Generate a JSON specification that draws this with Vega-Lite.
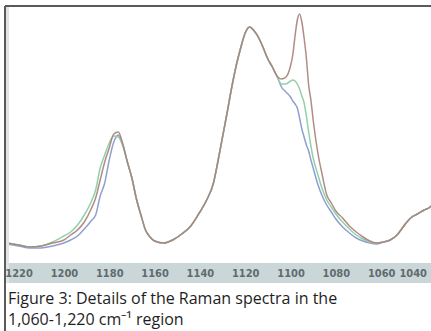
{
  "$schema": "https://vega.github.io/schema/vega-lite/v6.json",
  "width": 426,
  "height": 257,
  "autosize": {"type": "none"},
  "padding": {"left": 5, "top": 6, "right": 0, "bottom": 68},
  "background": "white",
  "config": {"view": {"stroke": null}},
  "title": {
    "text": ["Figure 3: Details of the Raman spectra in the", "1,060-1,220 cm⁻¹ region"],
    "orient": "bottom",
    "anchor": "start",
    "frame": "group",
    "font": "Open Sans",
    "fontSize": 16,
    "fontWeight": "normal",
    "color": "#1e1e1e",
    "lineHeight": 21,
    "offset": -41,
    "dx": 3
  },
  "datasets": {
    "spectra": [
      {"wn": 1225, "red": 20, "green": 20, "blue": 19},
      {"wn": 1220, "red": 18, "green": 18, "blue": 17},
      {"wn": 1215, "red": 16, "green": 16, "blue": 15},
      {"wn": 1210, "red": 17, "green": 17, "blue": 15},
      {"wn": 1205, "red": 20, "green": 21, "blue": 17},
      {"wn": 1200, "red": 23, "green": 27, "blue": 20},
      {"wn": 1197, "red": 28, "green": 31, "blue": 23},
      {"wn": 1194, "red": 33, "green": 38, "blue": 27},
      {"wn": 1191, "red": 41, "green": 48, "blue": 34},
      {"wn": 1188, "red": 54, "green": 61, "blue": 42},
      {"wn": 1186, "red": 65, "green": 73, "blue": 48},
      {"wn": 1184, "red": 83, "green": 95, "blue": 67},
      {"wn": 1182, "red": 101, "green": 108, "blue": 80},
      {"wn": 1180, "red": 115, "green": 120, "blue": 103},
      {"wn": 1178, "red": 129, "green": 127, "blue": 121},
      {"wn": 1176, "red": 131, "green": 126, "blue": 128},
      {"wn": 1174, "red": 119, "green": 117, "blue": 118},
      {"wn": 1172, "red": 101, "green": 101, "blue": 101},
      {"wn": 1170, "red": 85, "green": 85, "blue": 85},
      {"wn": 1168, "red": 64, "green": 64, "blue": 64},
      {"wn": 1166, "red": 48, "green": 48, "blue": 48},
      {"wn": 1164, "red": 33, "green": 33, "blue": 33},
      {"wn": 1162, "red": 26, "green": 26, "blue": 26},
      {"wn": 1160, "red": 22, "green": 22, "blue": 22},
      {"wn": 1156, "red": 20, "green": 20, "blue": 20},
      {"wn": 1152, "red": 23, "green": 23, "blue": 23},
      {"wn": 1148, "red": 29, "green": 29, "blue": 29},
      {"wn": 1144, "red": 37, "green": 37, "blue": 37},
      {"wn": 1140, "red": 51, "green": 51, "blue": 51},
      {"wn": 1137, "red": 63, "green": 63, "blue": 63},
      {"wn": 1134, "red": 80, "green": 80, "blue": 80},
      {"wn": 1132, "red": 102, "green": 102, "blue": 102},
      {"wn": 1130, "red": 126, "green": 126, "blue": 126},
      {"wn": 1128, "red": 150, "green": 150, "blue": 150},
      {"wn": 1126, "red": 175, "green": 175, "blue": 175},
      {"wn": 1124, "red": 197, "green": 197, "blue": 197},
      {"wn": 1122, "red": 215, "green": 215, "blue": 215},
      {"wn": 1120, "red": 230, "green": 230, "blue": 230},
      {"wn": 1118, "red": 236, "green": 236, "blue": 236},
      {"wn": 1116, "red": 232, "green": 232, "blue": 232},
      {"wn": 1114, "red": 225, "green": 225, "blue": 225},
      {"wn": 1112, "red": 215, "green": 215, "blue": 215},
      {"wn": 1110, "red": 204, "green": 204, "blue": 204},
      {"wn": 1108, "red": 196, "green": 196, "blue": 196},
      {"wn": 1106, "red": 187, "green": 187, "blue": 187},
      {"wn": 1104, "red": 184, "green": 179, "blue": 176},
      {"wn": 1102, "red": 186, "green": 179, "blue": 171},
      {"wn": 1100, "red": 197, "green": 182, "blue": 166},
      {"wn": 1099, "red": 208, "green": 183, "blue": 162},
      {"wn": 1098, "red": 227, "green": 182, "blue": 159},
      {"wn": 1097, "red": 243, "green": 179, "blue": 155},
      {"wn": 1096, "red": 249, "green": 174, "blue": 145},
      {"wn": 1095, "red": 241, "green": 167, "blue": 134},
      {"wn": 1094, "red": 225, "green": 160, "blue": 126},
      {"wn": 1093, "red": 205, "green": 147, "blue": 118},
      {"wn": 1092, "red": 178, "green": 131, "blue": 112},
      {"wn": 1091, "red": 163, "green": 117, "blue": 103},
      {"wn": 1090, "red": 143, "green": 105, "blue": 95},
      {"wn": 1088, "red": 111, "green": 89, "blue": 79},
      {"wn": 1086, "red": 88, "green": 74, "blue": 67},
      {"wn": 1084, "red": 68, "green": 63, "blue": 58},
      {"wn": 1082, "red": 60, "green": 56, "blue": 51},
      {"wn": 1080, "red": 52, "green": 49, "blue": 44},
      {"wn": 1077, "red": 45, "green": 41, "blue": 36},
      {"wn": 1074, "red": 37, "green": 34, "blue": 30},
      {"wn": 1071, "red": 31, "green": 28, "blue": 25},
      {"wn": 1068, "red": 26, "green": 24, "blue": 22},
      {"wn": 1065, "red": 22, "green": 21, "blue": 20},
      {"wn": 1062, "red": 20, "green": 20, "blue": 19},
      {"wn": 1059, "red": 21, "green": 21, "blue": 21},
      {"wn": 1056, "red": 23, "green": 23, "blue": 23},
      {"wn": 1053, "red": 28, "green": 28, "blue": 28},
      {"wn": 1050, "red": 37, "green": 37, "blue": 37},
      {"wn": 1047, "red": 45, "green": 45, "blue": 45},
      {"wn": 1044, "red": 49, "green": 49, "blue": 49},
      {"wn": 1041, "red": 53, "green": 53, "blue": 53},
      {"wn": 1039, "red": 55, "green": 55, "blue": 55},
      {"wn": 1038, "red": 57, "green": 57, "blue": 57}
    ]
  },
  "layer": [
    {
      "data": {"values": [{}]},
      "mark": {"type": "rect", "color": "#cbd6d8", "clip": false},
      "encoding": {
        "x": {"datum": 1226, "type": "quantitative", "scale": {"domain": [1038, 1226], "reverse": true, "nice": false, "zero": false},
          "axis": {
            "title": null,
            "values": [1220, 1200, 1180, 1160, 1140, 1120, 1100, 1080, 1060, 1040],
            "format": "d",
            "zindex": 2,
            "domain": false,
            "ticks": false,
            "grid": false,
            "labelPadding": 10,
            "labelBaseline": "middle",
            "labelFont": "DejaVu Sans Condensed",
            "labelFontSize": 11,
            "labelFontWeight": "bold",
            "labelColor": "#5f6b6e",
            "labelOverlap": false,
            "labelFlush": 8,
            "labelBound": false
          }},
        "x2": {"datum": 1038},
        "y": {"datum": 0, "type": "quantitative", "scale": {"domain": [0, 257], "nice": false, "zero": false}, "axis": null},
        "y2": {"datum": -20}
      }
    },
    {
      "data": {"name": "spectra"},
      "mark": {"type": "line", "interpolate": "monotone", "strokeWidth": 1.5, "color": "#8f9fd2"},
      "encoding": {
        "x": {"field": "wn", "type": "quantitative"},
        "y": {"field": "blue", "type": "quantitative"}
      }
    },
    {
      "data": {"name": "spectra"},
      "mark": {"type": "line", "interpolate": "monotone", "strokeWidth": 1.5, "color": "#93d0aa"},
      "encoding": {
        "x": {"field": "wn", "type": "quantitative"},
        "y": {"field": "green", "type": "quantitative"}
      }
    },
    {
      "data": {"name": "spectra"},
      "mark": {"type": "line", "interpolate": "monotone", "strokeWidth": 1.5, "color": "#a97f78", "opacity": 0.9},
      "encoding": {
        "x": {"field": "wn", "type": "quantitative"},
        "y": {"field": "red", "type": "quantitative"}
      }
    },
    {
      "data": {"values": [{}]},
      "mark": {"type": "rule", "color": "#e0e4e4", "strokeWidth": 3, "clip": false},
      "encoding": {
        "x": {"datum": 1224.9},
        "y": {"datum": 256},
        "y2": {"datum": -20}
      }
    },
    {
      "data": {"values": [{}]},
      "mark": {"type": "rule", "color": "#5a5a5a", "strokeWidth": 2, "clip": false},
      "encoding": {
        "x": {"datum": 1226},
        "x2": {"datum": 1038},
        "y": {"datum": 257}
      }
    },
    {
      "data": {"values": [{}]},
      "mark": {"type": "rule", "color": "#5a5a5a", "strokeWidth": 2, "clip": false},
      "encoding": {
        "x": {"datum": 1226},
        "y": {"datum": 257},
        "y2": {"datum": -68}
      }
    }
  ]
}
